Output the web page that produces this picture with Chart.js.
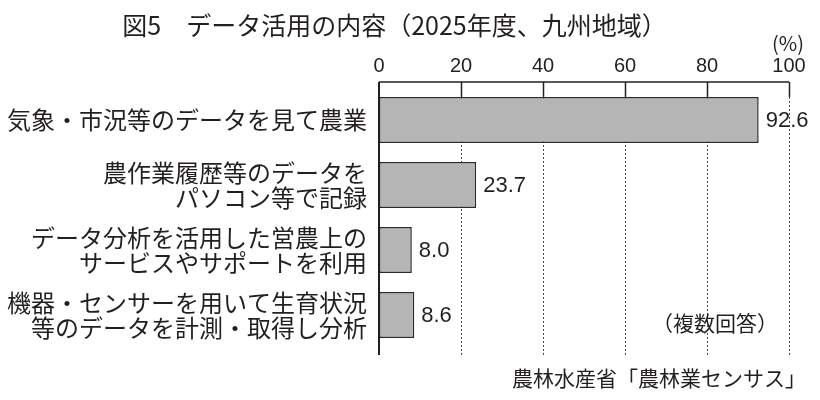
<!DOCTYPE html>
<html>
<head>
<meta charset="utf-8">
<script src="https://cdn.jsdelivr.net/npm/chart.js@4"></script>
<style>
  html, body { margin: 0; padding: 0; background: #fff; }
  #wrap { width: 820px; height: 400px; }
</style>
</head>
<body>
<div id="wrap"><canvas id="dataChart"></canvas></div>
<script>
// chart data
const categories = [
  ['気象・市況等のデータを見て農業'],
  ['農作業履歴等のデータを', 'パソコン等で記録'],
  ['データ分析を活用した営農上の', 'サービスやサポートを利用'],
  ['機器・センサーを用いて生育状況', '等のデータを計測・取得し分析'],
];
const values = [92.6, 23.7, 8.0, 8.6];
const xTicks = [0, 20, 40, 60, 80, 100];

const titleText = '図5　データ活用の内容（2025年度、九州地域）';
const unitText = '(%)';
const noteText = '（複数回答）';
const sourceText = '農林水産省「農林業センサス」';

const ink = '#231f20';
const jpFont = '"Noto Sans CJK JP", "Noto Sans", sans-serif';
const numFont = '"Liberation Sans", Arial, sans-serif';

// frame, grid lines, value labels and notes
const decorPlugin = {
  id: 'decor',
  beforeDatasetsDraw(chart) {
    const { ctx, chartArea, scales } = chart;
    const x = scales.x;
    const top = chartArea.top - 5.5;
    const bottom = chartArea.bottom + 7.5;
    const firstBar = chart.getDatasetMeta(0).data[0];
    const barTop = firstBar.y - firstBar.height / 2;

    ctx.save();
    xTicks.slice(1).forEach(v => {
      const px = Math.round(x.getPixelForValue(v)) + 0.5;
      ctx.setLineDash([]);
      ctx.strokeStyle = ink;
      ctx.lineWidth = 1.5;
      ctx.beginPath();
      ctx.moveTo(px, top);
      ctx.lineTo(px, barTop);
      ctx.stroke();
      ctx.setLineDash([2, 2]);
      ctx.strokeStyle = '#444';
      ctx.lineWidth = 1;
      ctx.beginPath();
      ctx.moveTo(px, barTop);
      ctx.lineTo(px, bottom);
      ctx.stroke();
    });
    ctx.setLineDash([]);
    ctx.strokeStyle = ink;
    ctx.lineWidth = 1.5;
    ctx.beginPath();
    ctx.moveTo(x.getPixelForValue(0), top);
    ctx.lineTo(x.getPixelForValue(100), top);
    ctx.stroke();
    ctx.restore();
  },
  afterDatasetsDraw(chart) {
    const { ctx, chartArea, scales } = chart;
    const x = scales.x;
    const top = chartArea.top - 5.5;
    const bottom = chartArea.bottom + 7.5;

    ctx.save();
    // left axis line
    ctx.strokeStyle = ink;
    ctx.lineWidth = 2;
    ctx.beginPath();
    ctx.moveTo(x.getPixelForValue(0), top);
    ctx.lineTo(x.getPixelForValue(0), bottom);
    ctx.stroke();

    // values at the bar ends
    ctx.fillStyle = ink;
    ctx.font = '22px ' + numFont;
    ctx.textAlign = 'left';
    ctx.textBaseline = 'middle';
    chart.getDatasetMeta(0).data.forEach((bar, i) => {
      ctx.fillText(values[i].toFixed(1), bar.x + 7, bar.y + 1);
    });

    // unit above the 100 tick
    ctx.font = '20px ' + jpFont;
    ctx.textAlign = 'center';
    ctx.fillText(unitText, x.getPixelForValue(100) - 1, 43);

    // notes
    ctx.font = '21px ' + jpFont;
    ctx.textAlign = 'right';
    ctx.fillText(noteText, 778, 323);
    ctx.fillText(sourceText, 806, 378);
    ctx.restore();
  }
};

const ctx = document.getElementById('dataChart').getContext('2d');
new Chart(ctx, {
  type: 'bar',
  data: {
    labels: categories,
    datasets: [{
      data: values,
      backgroundColor: '#b5b5b5',
      borderColor: '#2a2a2a',
      borderWidth: 1.5,
      borderSkipped: false,
      barPercentage: 0.71,
      categoryPercentage: 1,
    }],
  },
  options: {
    indexAxis: 'y',
    responsive: true,
    maintainAspectRatio: false,
    animation: false,
    events: [],
    layout: { padding: { left: 0, right: 31, top: 0, bottom: 52.5 } },
    plugins: {
      legend: { display: false },
      tooltip: { enabled: false },
      title: {
        display: true,
        text: titleText,
        color: ink,
        font: { family: jpFont, size: 25, weight: 'normal', lineHeight: 1.2 },
        padding: { top: 10, bottom: 0 },
      },
    },
    scales: {
      x: {
        position: 'top',
        min: 0,
        max: 100,
        afterBuildTicks: scale => { scale.ticks = xTicks.map(v => ({ value: v })); },
        afterFit: scale => { scale.height = 47.5; },
        grid: { display: false, drawTicks: false },
        border: { display: false },
        ticks: {
          color: ink,
          padding: 9,
          font: { family: numFont, size: 20 },
          maxRotation: 0,
        },
      },
      y: {
        afterFit: scale => { scale.width = 379; },
        grid: { display: false, drawTicks: false },
        border: { display: false },
        ticks: {
          color: ink,
          padding: 12,
          crossAlign: 'near',
          font: { family: jpFont, size: 24, lineHeight: 1.05 },
        },
      },
    },
  },
  plugins: [decorPlugin],
});
</script>
</body>
</html>
